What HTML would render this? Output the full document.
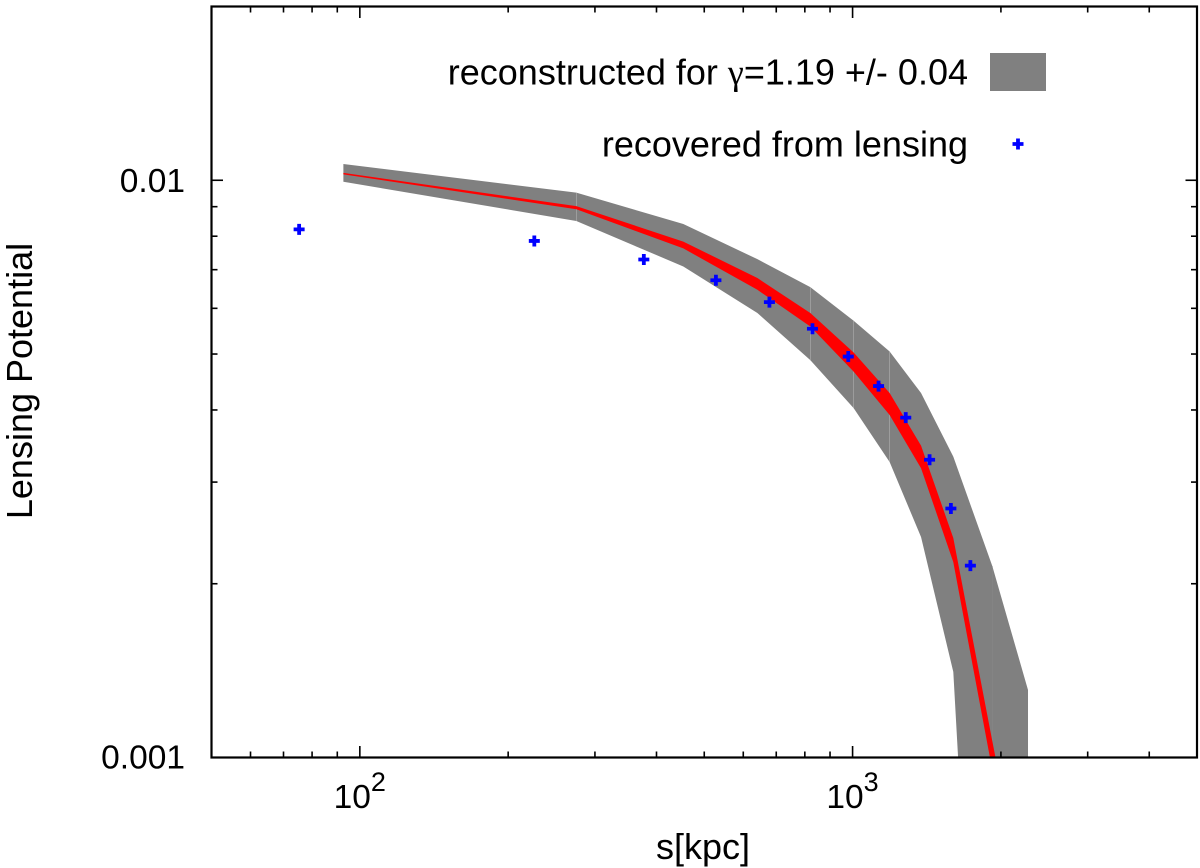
<!DOCTYPE html>
<html>
<head>
<meta charset="utf-8">
<title>Lensing Potential</title>
<style>
html,body{margin:0;padding:0;background:#fff;}
svg{display:block;}
text{font-family:"Liberation Sans",sans-serif;fill:#000;}
</style>
</head>
<body>
<svg id="chart" xmlns="http://www.w3.org/2000/svg" width="1200" height="868" viewBox="0 0 1200 868">
  <rect x="0" y="0" width="1200" height="868" fill="#fff"/>
  <g id="bands"></g>
  <g id="points"></g>
  <g id="ticks"></g>
  <rect x="211.5" y="6.5" width="985.5" height="751" fill="none" stroke="#000" stroke-width="2.2"/>
  <g id="tick-labels"></g>
  <text x="703" y="859" font-size="36" text-anchor="middle">s[kpc]</text>
  <text transform="translate(32,381) rotate(-90)" font-size="36" text-anchor="middle">Lensing Potential</text>
  <g>
    <text x="968" y="84.5" font-size="36" text-anchor="end">reconstructed for <tspan font-family="'Liberation Serif',serif">γ</tspan>=1.19 +/- 0.04</text>
    <rect x="990" y="53" width="56" height="38" fill="#808080"/>
    <text x="968" y="156.5" font-size="36" text-anchor="end">recovered from lensing</text>
    <path d="M1012.5 144H1023.5M1018 138.5V149.5" stroke="#0000ff" stroke-width="3.8" fill="none"/>
  </g>
</svg>
<script>
var bandS = [92.6, 275, 453.4, 640.9, 820.7, 1005, 1189, 1377, 1601, 1921, 2270];
var grayUpper = [0.010672, 0.009517, 0.0084, 0.0073, 0.00653, 0.00571, 0.00505, 0.00428, 0.00332, 0.002147, 0.001309];
var grayLower = [0.00994, 0.0085, 0.00709, 0.00589, 0.00488, 0.00403, 0.00325, 0.00241, 0.001407, 0.0000873, 0.00000703];
var redUpper = [0.0103, 0.00902, 0.00783, 0.00677, 0.00589, 0.00503, 0.00428, 0.00347, 0.0024, 0.001068, 0.000513];
var redLower = [0.01024, 0.00891, 0.00762, 0.00646, 0.00558, 0.00466, 0.00392, 0.00317, 0.00218, 0.000951, 0.000403];
var seamIndex = [1, 4, 5, 6, 9];
var pointS = [75.3, 226, 377, 528, 678, 829, 980, 1129, 1282, 1433, 1583, 1734];
var pointV = [0.00822, 0.00785, 0.00729, 0.00671, 0.00615, 0.00553, 0.00495, 0.0044, 0.00388, 0.00328, 0.0027, 0.00215];
var xMajorTicks = [100, 1000];
var xMajorExponents = ["2", "3"];
var xMinorTicks = [60, 70, 80, 90, 200, 300, 400, 500, 600, 700, 800, 900, 2000, 3000, 4000];
var yMajorTicks = [0.01];
var yMajorLabels = ["0.01"];
var yBottomTick = [0.001];
var yBottomLabels = ["0.001"];
var yMinorTicks = [0.002, 0.003, 0.004, 0.005, 0.006, 0.007, 0.008, 0.009];

var NS = 'http://www.w3.org/2000/svg';
var plotBottom = 757.5;
function xScale(s) { return 211.5 + 985.5 * Math.log10(s / 50) / 2; }
function yScale(v) { return plotBottom - 751 * Math.log10(v / 0.001) / Math.log10(20); }
function make(tag, parent) {
  var el = document.createElementNS(NS, tag);
  document.getElementById(parent).appendChild(el);
  return el;
}
function clipBottom(pts) {
  var out = [];
  for (var i = 0; i < pts.length; i++) {
    var a = pts[i], b = pts[(i + 1) % pts.length];
    var aIn = a[1] <= plotBottom, bIn = b[1] <= plotBottom;
    if (aIn) out.push(a);
    if (aIn !== bIn) {
      var t = (plotBottom - a[1]) / (b[1] - a[1]);
      out.push([a[0] + t * (b[0] - a[0]), plotBottom]);
    }
  }
  return out;
}
function bandPoints(upper, lower) {
  var pts = [];
  for (var i = 0; i < bandS.length; i++) pts.push([xScale(bandS[i]), yScale(upper[i])]);
  for (var j = bandS.length - 1; j >= 0; j--) pts.push([xScale(bandS[j]), yScale(lower[j])]);
  return clipBottom(pts).map(function (p) { return p[0].toFixed(2) + ',' + p[1].toFixed(2); }).join(' ');
}
var gray = make('polygon', 'bands');


gray.setAttribute('points', bandPoints(grayUpper, grayLower));
gray.setAttribute('fill', '#808080');

seamIndex.forEach(function (k) {
  var seam = make('line', 'bands');
  
  
  seam.setAttribute('x1', xScale(bandS[k]));
  seam.setAttribute('x2', xScale(bandS[k]));
  seam.setAttribute('y1', yScale(grayUpper[k]));
  seam.setAttribute('y2', Math.min(yScale(grayLower[k]), 757));
  seam.setAttribute('stroke', k === 9 ? '#888888' : '#b0b0b0');
  seam.setAttribute('stroke-width', '0.6');
});

var red = make('polygon', 'bands');


red.setAttribute('points', bandPoints(redUpper, redLower));
red.setAttribute('fill', '#ff0000');

pointS.forEach(function (s, i) {
  var cx = xScale(s), cy = yScale(pointV[i]);
  var p = make('path', 'points');
  
  
  p.setAttribute('d', 'M' + (cx - 5.5) + ' ' + cy + 'H' + (cx + 5.5) + 'M' + cx + ' ' + (cy - 5.5) + 'V' + (cy + 5.5));
  p.setAttribute('stroke', '#0000ff');
  p.setAttribute('stroke-width', '3.8');
  p.setAttribute('fill', 'none');
});

function xTick(s, len) {
  [[757.5, 757.5 - len], [6.5, 6.5 + len]].forEach(function (e) {
    var t = make('line', 'ticks');
    
    
    t.setAttribute('x1', xScale(s));
    t.setAttribute('x2', xScale(s));
    t.setAttribute('y1', e[0]);
    t.setAttribute('y2', e[1]);
    t.setAttribute('stroke', '#000');
    t.setAttribute('stroke-width', '1.6');
  });
}
function yTick(v, len) {
  [[211.5, 211.5 + len], [1197, 1197 - len]].forEach(function (e) {
    var t = make('line', 'ticks');
    
    
    t.setAttribute('y1', yScale(v));
    t.setAttribute('y2', yScale(v));
    t.setAttribute('x1', e[0]);
    t.setAttribute('x2', e[1]);
    t.setAttribute('stroke', '#000');
    t.setAttribute('stroke-width', '1.6');
  });
}
xMinorTicks.forEach(function (s) { xTick(s, 6); });
xMajorTicks.forEach(function (s) { xTick(s, 11.5); });
yMinorTicks.forEach(function (v) { yTick(v, 6); });
yMajorTicks.forEach(function (v) { yTick(v, 11.5); });

xMajorTicks.forEach(function (s, i) {
  var cx = xScale(s);
  var base = make('text', 'tick-labels');
  
  
  base.setAttribute('x', cx + 11);
  base.setAttribute('y', 808);
  base.setAttribute('font-size', '33.5');
  base.setAttribute('text-anchor', 'end');
  base.textContent = '10';
  var sup = make('text', 'tick-labels');
  
  
  sup.setAttribute('x', cx + 11);
  sup.setAttribute('y', 791);
  sup.setAttribute('font-size', '27');
  sup.textContent = xMajorExponents[i];
});
function yLabel(v, txt, off) {
  var t = make('text', 'tick-labels');
  
  
  t.setAttribute('x', 185);
  t.setAttribute('y', yScale(v) + off);
  t.setAttribute('font-size', '33.5');
  t.setAttribute('text-anchor', 'end');
  t.textContent = txt;
}
yMajorTicks.forEach(function (v, i) { yLabel(v, yMajorLabels[i], 11.5); });
yBottomTick.forEach(function (v, i) { yLabel(v, yBottomLabels[i], 11); });
</script>
</body>
</html>
